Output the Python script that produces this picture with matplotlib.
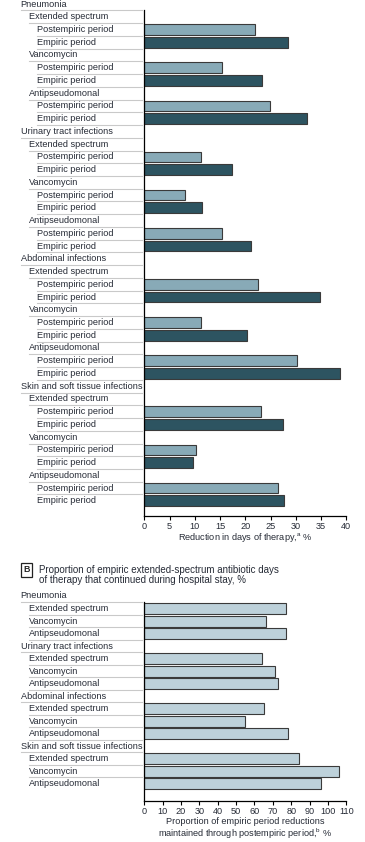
import matplotlib.pyplot as plt
from matplotlib.transforms import blended_transform_factory
from matplotlib.patches import Rectangle

plt.rcParams['font.family'] = ['Liberation Sans Narrow', 'Liberation Sans', 'DejaVu Sans']
plt.rcParams['font.size'] = 7

infections = ["Pneumonia", "Urinary tract infections", "Abdominal infections",
              "Skin and soft tissue infections"]
classes = ["Extended spectrum", "Vancomycin", "Antipseudomonal"]
periods = ["Postempiric period", "Empiric period"]

# panel A: reduction in days of therapy, %
post_a = [22.0, 15.4, 24.8, 11.2, 8.0, 15.4, 22.6, 11.2, 30.2, 23.1, 10.2, 26.5]
emp_a = [28.4, 23.4, 32.2, 17.4, 11.4, 21.1, 34.8, 20.3, 38.7, 27.5, 9.6, 27.7]
# panel B: proportion maintained, %
prop_b = [77.0, 66.1, 77.0, 64.3, 71.2, 73.0, 65.2, 55.0, 78.1, 84.1, 106.2, 96.1]

c_post = '#88aab7'
c_emp = '#2d5461'
c_b = '#bdd1da'
c_edge = '#3a3a3a'
c_txt = '#262b36'
c_rule = '#c9c9c9'
fs = 6.6

W, H = 365, 842
fig = plt.figure(figsize=(W / 100, H / 100), dpi=100)

indent = [20.7 / W, 29.3 / W, 37.3 / W]
rule_end = 142 / W


def axes_px(x0, x1, ytop, ybot):
    return fig.add_axes([x0 / W, 1 - ybot / H, (x1 - x0) / W, (ybot - ytop) / H])


def draw_labels(ax, rows):
    tr = blended_transform_factory(fig.transFigure, ax.transData)
    for i, (lab, lev) in enumerate(rows):
        ax.text(indent[lev], i, lab, transform=tr, ha='left', va='center',
                color=c_txt, fontsize=fs, clip_on=False)
        if i < len(rows) - 1:
            ax.plot([indent[lev], rule_end], [i + 0.5, i + 0.5], transform=tr,
                    color=c_rule, lw=0.8, clip_on=False)


def style(ax):
    for s in ['top', 'right']:
        ax.spines[s].set_visible(False)
    ax.spines['left'].set_linewidth(0.9)
    ax.spines['bottom'].set_linewidth(0.9)
    ax.set_yticks([])
    ax.tick_params(axis='x', length=3, width=0.8, pad=1.5, labelsize=fs, labelcolor=c_txt)


# ---- panel A
rows_a = []
ya_post, ya_emp, va_post, va_emp = [], [], [], []
k = 0
for inf in infections:
    rows_a.append((inf, 0))
    for cl in classes:
        rows_a.append((cl, 1))
        rows_a.append((periods[0], 2))
        ya_post.append(len(rows_a) - 1)
        va_post.append(post_a[k])
        rows_a.append((periods[1], 2))
        ya_emp.append(len(rows_a) - 1)
        va_emp.append(emp_a[k])
        k += 1

axA = axes_px(144.3, 346.3, 10, 516)
axA.barh(ya_post, va_post, height=0.84, color=c_post, edgecolor=c_edge, linewidth=0.8)
axA.barh(ya_emp, va_emp, height=0.84, color=c_emp, edgecolor=c_edge, linewidth=0.8)
axA.set_xlim(0, 40)
axA.set_ylim(40.19, 0.47)
axA.set_xticks(range(0, 41, 5))
style(axA)
draw_labels(axA, rows_a)
fig.text(245.3 / W, 1 - 537.5 / H, 'Reduction in days of therapy,$^{\\mathregular{a}}$ %',
         ha='center', va='center', color=c_txt, fontsize=fs)

# ---- panel B
rows_b = []
yb = []
for inf in infections:
    rows_b.append((inf, 0))
    for cl in classes:
        rows_b.append((cl, 1))
        yb.append(len(rows_b) - 1)

axB = axes_px(144.3, 346.3, 601.7, 800.7)
axB.barh(yb, prop_b, height=0.88, color=c_b, edgecolor=c_edge, linewidth=0.8)
axB.set_xlim(0, 110)
axB.set_ylim(16.36, 0.456)
axB.set_xticks(range(0, 111, 10))
style(axB)
draw_labels(axB, rows_b)
fig.text(245.3 / W, 1 - 822 / H, 'Proportion of empiric period reductions',
         ha='center', va='center', color=c_txt, fontsize=fs)
fig.text(245.3 / W, 1 - 833.5 / H,
         'maintained through postempiric period,$^{\\mathregular{b}}$ %',
         ha='center', va='center', color=c_txt, fontsize=fs)

# panel B heading
fig.patches.append(Rectangle((20.7 / W, 1 - 576.7 / H), 11.6 / W, 13.7 / H,
                             transform=fig.transFigure, facecolor='white',
                             edgecolor='#222222', linewidth=0.9))
fig.text(26.5 / W, 1 - 570 / H, 'B', ha='center', va='center', fontsize=6.3,
         fontweight='bold', color='#222222')
fig.text(39 / W, 1 - 575 / H,
         'Proportion of empiric extended-spectrum antibiotic days\n'
         'of therapy that continued during hospital stay, %',
         ha='left', va='center', fontsize=7.0, color=c_txt, linespacing=1.05)

fig.savefig('out.png', dpi=100)
